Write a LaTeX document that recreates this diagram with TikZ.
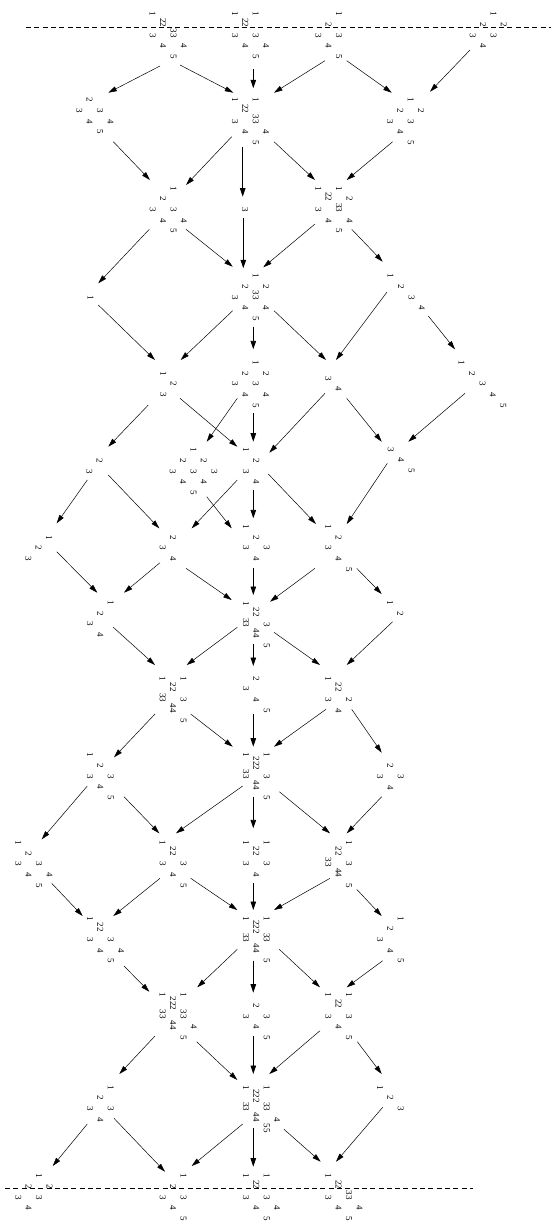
\documentclass[tikz,border=0pt]{standalone}
\usepackage{fontspec}
\setmainfont{Liberation Serif}
\usetikzlibrary{arrows.meta,calc}
\tikzset{
 dg/.style={rotate=-90, inner sep=0pt, font=\fontsize{9}{9.5}\selectfont},
 dline/.style={line width=0.5pt, -{Triangle[length=8.5pt,width=5pt]}},
 vline/.style={line width=0.9pt, -{Triangle[length=8.5pt,width=5.5pt]}},
 cutline/.style={line width=0.6pt, dash pattern=on 5pt off 3.3pt}
}
\newcommand{\cmp}[4]{%
  \coordinate (#1) at (#2,#3);
  \foreach \c/\r/\t [count=\k] in {#4} {
    \ifnum\t>9\relax \def\dy{-2}\else\def\dy{0}\fi
    \node[dg] (#1-\k) at ($(#1)+(\c*10.4,\r*10.7+\dy)$) {\t};
  }
}
\newcommand{\edg}[5][dline]{%
  \coordinate (#2-#3-s) at (#4);
  \coordinate (#2-#3-t) at (#5);
  \draw[#1] (#2-#3-s) -- (#2-#3-t);
}
\begin{document}
\begin{tikzpicture}[x=1pt,y=-1pt]
\useasboundingbox (0,0) rectangle (551,1222);
% dashed cut lines
\coordinate (topL) at (26,27.3); \coordinate (topR) at (551,27.3);
\coordinate (botL) at (5,1188.3); \coordinate (botR) at (472.7,1188.3);
\draw[cutline] (topL) -- (topR);
\draw[cutline] (botL) -- (botR);
% composite nodes
\cmp{A0}{152.7}{14}{0/0/1, 1/1/22, 2/2/33, 0/2/3, 1/3/4, 3/3/4, 2/4/5}
\cmp{A1}{235}{14}{0/0/1, 2/0/1, 1/1/22, 0/2/3, 2/2/3, 1/3/4, 3/3/4, 2/4/5}
\cmp{A2}{318.3}{14}{2/0/1, 1/1/2, 0/2/3, 2/2/3, 1/3/4, 2/4/5}
\cmp{A3}{472.7}{14}{2/0/1, 1/1/2, 3/1/2, 0/2/3, 2/2/3, 1/3/4}
\cmp{B0}{79.3}{100}{1/0/2, 0/1/3, 2/1/3, 1/2/4, 3/2/4, 2/3/5}
\cmp{B1}{235}{100}{0/0/1, 2/0/1, 1/1/22, 0/2/3, 2/2/33, 1/3/4, 3/3/4, 2/4/5}
\cmp{B2}{390}{100}{2/0/1, 1/1/2, 3/1/2, 0/2/3, 2/2/3, 1/3/4, 2/4/5}
\cmp{C0}{152.7}{188.3}{2/0/1, 1/1/2, 0/2/3, 2/2/3, 1/3/4, 3/3/4, 2/4/5}
\cmp{C1}{245}{209.3}{0/0/3}
\cmp{C2}{318.3}{188.3}{0/0/1, 2/0/1, 1/1/22, 3/1/2, 0/2/3, 2/2/33, 1/3/4, 3/3/4, 2/4/5}
\cmp{D0}{90.7}{297.3}{0/0/1}
\cmp{D1}{235}{276}{2/0/1, 1/1/2, 3/1/2, 0/2/3, 2/2/33, 1/3/4, 3/3/4, 2/4/5}
\cmp{D2}{390.7}{276}{0/0/1, 1/1/2, 2/2/3, 3/3/4}
\cmp{E0}{163.3}{373.3}{0/0/1, 1/1/2, 0/2/3}
\cmp{E1}{235}{362.7}{2/0/1, 1/1/2, 3/1/2, 0/2/3, 2/2/3, 1/3/4, 3/3/4, 2/4/5}
\cmp{E2}{328.3}{378.3}{0/0/3, 1/1/4}
\cmp{E3}{461.7}{362.7}{0/0/1, 1/1/2, 2/2/3, 3/3/4, 4/4/5}
\cmp{F0}{89.3}{460.7}{1/0/2, 0/1/3}
\cmp{F1}{172.7}{450}{2/0/1, 1/1/2, 3/1/2, 0/2/3, 2/2/3, 4/2/3, 1/3/4, 3/3/4, 2/4/5}
\cmp{F2}{246}{450}{0/0/1, 1/1/2, 0/2/3, 1/3/4}
\cmp{F3}{390.7}{449.3}{0/0/3, 1/1/4, 2/2/5}
\cmp{G0}{28.3}{537.3}{2/0/1, 1/1/2, 0/2/3}
\cmp{G1}{162.7}{537.3}{1/0/2, 0/1/3, 1/2/4}
\cmp{G2}{246}{526.7}{0/0/1, 1/1/2, 0/2/3, 2/2/3, 1/3/4}
\cmp{G3}{328.3}{526.7}{0/0/1, 1/1/2, 0/2/3, 1/3/4, 2/4/5}
\cmp{H0}{90}{602.7}{2/0/1, 1/1/2, 0/2/3, 1/3/4}
\cmp{H1}{246}{603.3}{0/0/1, 1/1/22, 0/2/33, 2/2/3, 1/3/44, 2/4/5}
\cmp{H2}{390}{602.7}{0/0/1, 1/1/2}
\cmp{I0}{162.7}{678.3}{0/0/1, 2/0/1, 1/1/22, 0/2/33, 2/2/3, 1/3/44, 2/4/5}
\cmp{I1}{246}{678.3}{1/0/2, 0/1/3, 1/2/4, 2/3/5}
\cmp{I2}{328.3}{678.3}{0/0/1, 1/1/22, 0/2/3, 2/2/2, 1/3/4}
\cmp{J0}{90}{755}{0/0/1, 1/1/2, 0/2/3, 2/2/3, 1/3/4, 2/4/5}
\cmp{J1}{246}{755}{0/0/1, 2/0/1, 1/1/222, 0/2/33, 2/2/3, 1/3/44, 2/4/5}
\cmp{J2}{380}{766}{1/0/2, 0/1/3, 2/1/3, 1/2/4}
\cmp{K0}{18.3}{842.7}{0/0/1, 1/1/2, 0/2/3, 2/2/3, 1/3/4, 3/3/4, 2/4/5}
\cmp{K1}{162.7}{842.7}{0/0/1, 1/1/22, 0/2/3, 2/2/3, 1/3/4, 2/4/5}
\cmp{K2}{246}{842.7}{0/0/1, 2/0/1, 1/1/22, 0/2/3, 2/2/3, 1/3/4}
\cmp{K3}{328.3}{842.7}{2/0/1, 1/1/22, 0/2/33, 2/2/3, 1/3/44, 2/4/5}
\cmp{L0}{90}{918.3}{0/0/1, 1/1/22, 0/2/3, 2/2/3, 1/3/4, 3/3/4, 2/4/5}
\cmp{L1}{246}{918.3}{0/0/1, 2/0/1, 1/1/222, 0/2/33, 2/2/33, 1/3/44, 2/4/5}
\cmp{L2}{380}{918.3}{2/0/1, 1/1/2, 0/2/3, 1/3/4, 2/4/5}
\cmp{M0}{162.7}{995}{0/0/1, 2/0/1, 1/1/222, 0/2/33, 2/2/33, 1/3/44, 3/3/4, 2/4/5}
\cmp{M1}{246}{995}{1/1/2, 0/2/3, 2/2/3, 1/3/4, 2/4/5}
\cmp{M2}{328.3}{995}{0/0/1, 2/0/1, 1/1/22, 0/2/3, 2/2/3, 1/3/4, 2/4/5}
\cmp{N0}{90}{1087.3}{2/0/1, 1/1/2, 0/2/3, 2/2/3, 1/3/4}
\cmp{N1}{246}{1087.3}{0/0/1, 2/0/1, 1/1/222, 0/2/33, 2/2/33, 1/3/44, 3/3/4, 2/4/55}
\cmp{N2}{380}{1087.3}{0/0/1, 1/1/2, 2/2/3}
\cmp{O0}{18.3}{1176}{2/0/1, 1/1/2, 3/1/2, 0/2/3, 2/2/3, 1/3/4}
\cmp{O1}{162.7}{1176}{2/0/1, 1/1/2, 0/2/3, 2/2/3, 1/3/4, 2/4/5}
\cmp{O2}{246}{1176}{0/0/1, 2/0/1, 1/1/22, 0/2/3, 2/2/3, 1/3/4, 3/3/4, 2/4/5}
\cmp{O3}{328.3}{1176}{0/0/1, 1/1/22, 2/2/33, 0/2/3, 1/3/4, 3/3/4, 2/4/5}
% connectors
\edg{A0}{B0}{160,66}{108.3,92.7}
\edg{A0}{B1}{180,65}{233.3,92.7}
\edg[vline]{A1}{B1}{253.3,69.3}{253.3,88.3}
\edg{A2}{B1}{325,60.7}{274,92.7}
\edg{A2}{B2}{346.7,60.7}{391.7,92.7}
\edg{A3}{B2}{470,50}{430,91.7}
\edg{B0}{C0}{113.3,141.7}{150,180}
\edg{B1}{C0}{231.7,136.7}{186,185}
\edg[vline]{B1}{C1}{242.7,146.7}{242.7,196.7}
\edg{B1}{C2}{274,141.7}{315,180}
\edg{B2}{C2}{392.7,141.7}{346.7,180}
\edg{C0}{D0}{149.3,229.3}{98.3,283.3}
\edg{C0}{D1}{186,229.3}{232.7,266.7}
\edg[vline]{C1}{D1}{243.3,218.3}{243.3,268.3}
\edg{C2}{D1}{315,224}{263.3,267.3}
\edg{C2}{D2}{351.7,229.3}{382.7,261.7}
\edg{D0}{E0}{98.3,305}{155,360}
\edg{D1}{E0}{232.7,310.7}{180.7,360}
\edg[vline]{D1}{E1}{253.3,326.7}{253.3,349.3}
\edg{D1}{E2}{274,310.7}{326,360}
\edg{D2}{E2}{387,292}{336,360}
\edg{D2}{E3}{428.3,316}{455,349.3}
\edg{E0}{F0}{148.3,405}{108.3,446.7}
\edg{E0}{F2}{180,398.3}{237.3,446.7}
\edg{E1}{F1}{237.3,398.3}{206.7,441.7}
\edg[vline]{E1}{F2}{253.3,413.3}{253.3,441.7}
\edg{E2}{F2}{325,393.3}{269.3,452.7}
\edg{E2}{F3}{346.7,398.3}{381.7,441.7}
\edg{E3}{F3}{465,393.3}{408.3,441.7}
\edg{F0}{G0}{87.3,480}{56.7,523.3}
\edg{F0}{G1}{108.3,475}{159.3,528.3}
\edg{F2}{G1}{237.3,480}{191.7,528.3}
\edg{F1}{G2}{206.7,496.7}{231.7,528.3}
\edg[vline]{F2}{G2}{253.3,490}{253.3,518.3}
\edg{F2}{G3}{268.3,474}{316,524}
\edg{F3}{G3}{387.3,463.3}{346.7,524}
\edg{G0}{H0}{56.7,551.7}{97.3,592.7}
\edg{G1}{H0}{160,562.7}{124,592.7}
\edg{G1}{H1}{186,568.3}{231.7,600}
\edg[vline]{G2}{H1}{253.3,568.3}{253.3,595}
\edg{G3}{H1}{315,568.3}{270,601.7}
\edg{G3}{H2}{356.7,568.3}{381.7,594}
\edg{H0}{I0}{113.3,627.3}{155,665}
\edg{H1}{I0}{237.3,627.3}{186.7,665}
\edg[vline]{H1}{I1}{253.3,644}{253.3,666}
\edg{H1}{I2}{274,632.3}{320,665}
\edg{H2}{I2}{392.7,621.7}{346.7,665}
\edg{I0}{J0}{155,714}{114,757.3}
\edg{I0}{J1}{190.7,714}{232.7,746.7}
\edg[vline]{I1}{J1}{253.3,714}{253.3,746.7}
\edg{I2}{J1}{326,709.3}{274,746.7}
\edg{I2}{J2}{351.7,709.3}{381.7,752.7}
\edg{J0}{K0}{87.3,786}{41.7,839.3}
\edg{J0}{K1}{124,796.7}{159.3,833.3}
\edg{J1}{K1}{242.7,786}{176,833.3}
\edg[vline]{J1}{K2}{253.3,796.7}{253.3,828.3}
\edg{J1}{K3}{279.3,791.7}{330,833.3}
\edg{J2}{K3}{381.7,796.7}{346.7,833.3}
\edg{K0}{L0}{51.7,883.3}{82.7,916}
\edg{K1}{L0}{160,878.3}{113.3,916}
\edg{K1}{L1}{190.7,878.3}{237.3,910}
\edg[vline]{K2}{L1}{253.3,883.3}{253.3,910}
\edg{K3}{L1}{330,878.3}{274,910}
\edg{K3}{L2}{356.7,889.3}{381.7,916}
\edg{L0}{M0}{124,966}{149.3,991.7}
\edg{L1}{M0}{237.3,949.3}{197.3,987.3}
\edg[vline]{L1}{M1}{253.3,960.7}{253.3,992.7}
\edg{L1}{M2}{279.3,949.3}{320,987.3}
\edg{L2}{M2}{382.7,960.7}{346.7,987.3}
\edg{M0}{N0}{155,1036}{119.3,1074}
\edg{M0}{N1}{196.7,1041.7}{237.3,1080}
\edg[vline]{M1}{N1}{253.3,1036}{253.3,1074}
\edg{M2}{N1}{320,1030.7}{269.3,1074}
\edg{M2}{N2}{357.3,1041.7}{381.7,1074}
\edg{N0}{O0}{87.3,1124}{52.7,1166}
\edg{N0}{O1}{114,1118.3}{165,1171.7}
\edg{N1}{O1}{242.7,1124}{191.7,1166}
\edg[vline]{N1}{O2}{253.3,1128.3}{253.3,1166.7}
\edg{N1}{O3}{284,1129.3}{320.7,1161.7}
\edg{N2}{O3}{382.7,1107.3}{336,1161.7}
\end{tikzpicture}
\end{document}
